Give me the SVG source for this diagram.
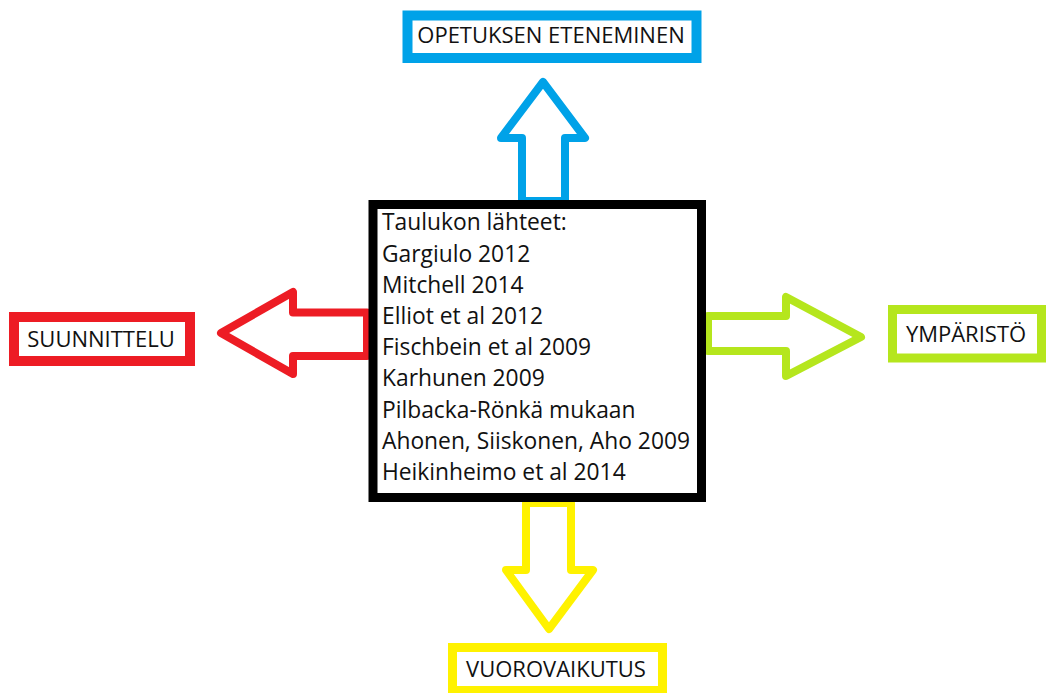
<svg xmlns="http://www.w3.org/2000/svg" width="1046" height="693" viewBox="0 0 1046 693">
<style>
text{font-family:"Open Sans","Noto Sans","Liberation Sans",sans-serif;font-size:22px;fill:#111}
.src{font-size:22.8px}
.lbl{text-anchor:middle}
.box{fill:#fff}
.arr{fill:#fff;stroke-width:8;stroke-linejoin:round}
</style>
<rect width="1046" height="693" fill="#fff"/>
<g id="connectors">
<path class="arr" stroke="#00a2e8" d="M543,82 L585,138 L565,138 L565,201 L522,201 L522,138 L501,138 Z"/>
<path class="arr" stroke="#ed1c24" d="M221,333 L293,292 L293,312.5 L367,312.5 L367,356 L293,356 L293,374 Z"/>
<path class="arr" stroke="#b5e61d" d="M861,337 L786,297 L786,316 L708,316 L708,351 L786,351 L786,376 Z"/>
<path class="arr" stroke="#fff200" d="M549,629 L593,570 L571,570 L571,503 L526,503 L526,570 L506,570 Z"/>
</g>
<g id="center">
<rect class="box" x="373" y="204.5" width="328.5" height="293" stroke="#000" stroke-width="9"/>
<text class="src" x="382" y="230">Taulukon lähteet:</text>
<text class="src" x="382" y="261.5">Gargiulo 2012</text>
<text class="src" x="382" y="292.5">Mitchell 2014</text>
<text class="src" x="382" y="324">Elliot et al 2012</text>
<text class="src" x="382" y="355">Fischbein et al 2009</text>
<text class="src" x="382" y="386">Karhunen 2009</text>
<text class="src" x="382" y="417.5">Pilbacka-Rönkä mukaan</text>
<text class="src" x="382" y="448.5">Ahonen, Siiskonen, Aho 2009</text>
<text class="src" x="382" y="480">Heikinheimo et al 2014</text>
</g>
<g id="opetuksen">
<rect class="box" x="407.5" y="15.5" width="289" height="42.5" stroke="#00a2e8" stroke-width="10"/>
<text class="lbl" x="551" y="43">OPETUKSEN ETENEMINEN</text>
</g>
<g id="suunnittelu">
<rect class="box" x="14" y="317" width="176" height="44" stroke="#ed1c24" stroke-width="10"/>
<text class="lbl" x="101" y="347">SUUNNITTELU</text>
</g>
<g id="ymparisto">
<rect class="box" x="892.5" y="309.5" width="149" height="48.5" stroke="#b5e61d" stroke-width="9"/>
<text class="lbl" x="966" y="342">YMPÄRISTÖ</text>
</g>
<g id="vuorovaikutus">
<rect class="box" x="452.5" y="647.5" width="210" height="43" stroke="#fff200" stroke-width="9"/>
<text class="lbl" x="556" y="677">VUOROVAIKUTUS</text>
</g>
</svg>
